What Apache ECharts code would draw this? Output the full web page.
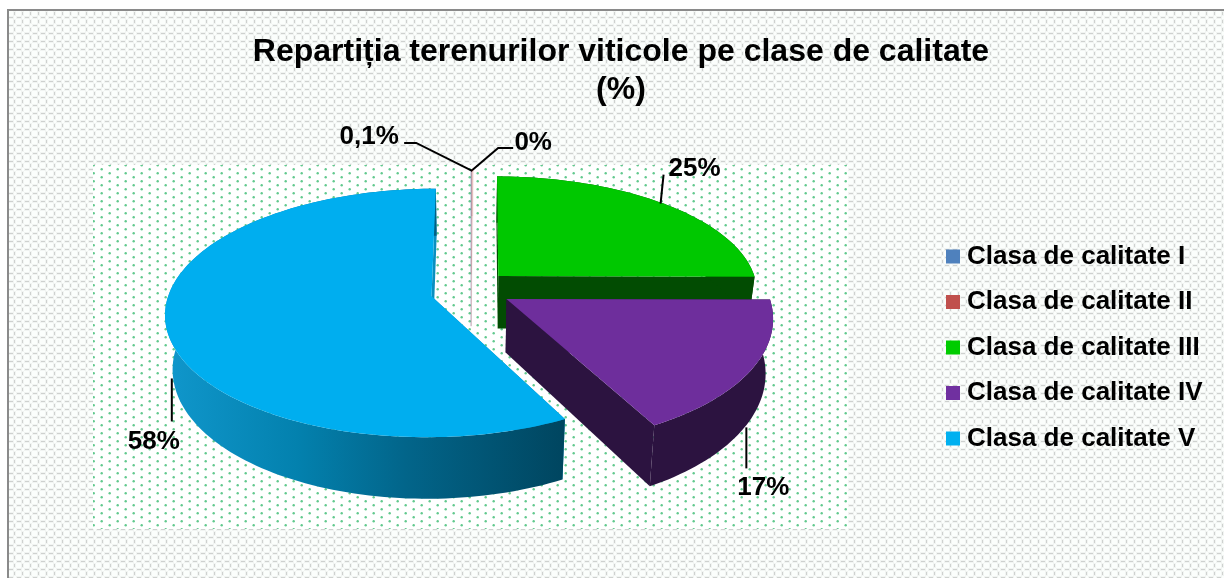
<!DOCTYPE html>
<html><head><meta charset="utf-8">
<style>html,body{margin:0;padding:0;background:#fff}#c{width:1224px;height:578px}</style>
<script src="https://cdn.jsdelivr.net/npm/echarts@6/dist/echarts.min.js"></script>
</head><body><div id="c"></div>
<script>
const categories = ['Clasa de calitate I','Clasa de calitate II','Clasa de calitate III','Clasa de calitate IV','Clasa de calitate V'];
const values = [0.02, 0.1, 25, 17, 58];
const valueLabels = ['0%','0,1%','25%','17%','58%'];
const topColors = ['#4F81BD','#C0504D','#00C800','#6E2E9C','#00AEEF'];
const legendColors = ['#4F81BD','#C0504D','#00CC00','#7030A0','#00B0F0'];
const wallColors = ['#4F81BD','#C0504D','#024C02','#2C1340','#0A8FC0'];
const sliceOpacity = [0.09,0.09,1,1,1];

// camera model of the tilted, exploded pie
const CX=471, CY=291, RX=267.5, RY=122.7, K=0.136, EXPLODE=0.14, H=53, BOTTOM=0.975;
const startNudgeDeg=[0,0,0,0,1];
const sliceScale=[[1,1],[1,1],[0.97,0.94],[0.975,1.01],[0.98,0.985]];
const sliceShift=[[0,0],[0,0],[1,-3],[3,-1],[-3,1]];
// where each leader starts (rim of the slice) and how label and elbows sit relative to it
const leaderOnBottomRim=[false,false,false,true,true];
const leaderPaths=[[[0,1],[27,-22],[42,-22]],[[0,1],[-56,-27],[-68,-27]],[[-3,0],[0,-29]],[[1,1],[1,42]],[[-2,-4],[-2,39]]];
const labelOffsets=[[62,-27],[-103,-33],[31,-35],[18,61],[-20,59]];

const total=values.reduce((a,b)=>a+b,0);
const proj=(X,Z,bottom,sh)=>{const w=1+K*Z;const s=bottom?BOTTOM:1;return [CX+RX*s*X/w+sh[0], CY-RY*Z/w+(bottom?H/w:0)+sh[1]];};
function sliceGeom(i){
  let before=0;for(let j=0;j<i;j++)before+=values[j];
  const a0=before/total*360, a1=(before+values[i])/total*360;
  const mid=(a0+a1)/2*Math.PI/180;
  const ax=EXPLODE*Math.sin(mid), az=EXPLODE*Math.cos(mid);
  const from=a0+startNudgeDeg[i];
  const n=Math.max(2,Math.ceil((a1-from)/1.5));
  const sc=sliceScale[i];
  const rim=[];
  for(let k=0;k<=n;k++){const t=(from+(a1-from)*k/n)*Math.PI/180;rim.push([ax+sc[0]*Math.sin(t),az+sc[1]*Math.cos(t)]);}
  return {ax,az,rim,mid,sc};
}
function renderSlice(i){
  const g=sliceGeom(i), sh=sliceShift[i];
  const top=g.rim.map(p=>proj(p[0],p[1],false,sh)), bot=g.rim.map(p=>proj(p[0],p[1],true,sh));
  const A=proj(g.ax,g.az,false,sh), Ab=proj(g.ax,g.az,true,sh);
  let wallFill=wallColors[i], arcFill=wallColors[i];
  if(i===4) arcFill=new echarts.graphic.LinearGradient(165,0,566,0,[{offset:0,color:'#1097CC'},{offset:0.33,color:'#0381AE'},{offset:0.6,color:'#02658A'},{offset:1,color:'#00455F'}],true);
  const op=sliceOpacity[i], extra=op<1?{stroke:topColors[i],lineWidth:1}:{};
  const poly=(pts,fill)=>({type:'polygon',shape:{points:pts},style:Object.assign({fill,opacity:op},extra)});
  const last=top.length-1;
  const ch=[
    poly([A,top[0],bot[0],Ab],wallFill),
    poly([A,top[last],bot[last],Ab],wallFill),
    poly(top.concat(bot.slice().reverse()),arcFill),
    poly([A].concat(top),topColors[i])
  ];
  const rimT=[g.ax+g.sc[0]*Math.sin(g.mid),g.az+g.sc[1]*Math.cos(g.mid)];
  const a=proj(rimT[0],rimT[1],leaderOnBottomRim[i],sh);
  ch.push({type:'polyline',shape:{points:leaderPaths[i].map(o=>[a[0]+o[0],a[1]+o[1]])},style:{fill:null,stroke:'#000',lineWidth:2}});
  ch.push({type:'text',style:{text:valueLabels[i],x:a[0]+labelOffsets[i][0],y:a[1]+labelOffsets[i][1],align:'center',verticalAlign:'middle',fill:'#000',font:'bold 26px "Liberation Sans", Arial, sans-serif'}});
  return {type:'group',children:ch};
}

function makeOuter(){
  const c=document.createElement('canvas');c.width=8;c.height=8;const x=c.getContext('2d');
  x.fillStyle='#FBFEFC';x.fillRect(0,0,8,8);
  x.fillStyle='rgba(120,120,120,0.07)';x.fillRect(0,0,6,3);x.fillRect(5,3,3,5);
  x.fillStyle='rgba(110,110,110,0.26)';x.fillRect(1,1,4,1);
  x.fillRect(6,4,1,3);
  return c;
}
function makeInner(){
  const c=document.createElement('canvas');c.width=16;c.height=8;const x=c.getContext('2d');
  x.fillStyle='#FFFFFF';x.fillRect(0,0,16,8);
  x.fillStyle='#62C98E';
  x.beginPath();x.arc(5.7,1.2,1.2,0,7);x.fill();
  x.beginPath();x.arc(13.7,5.2,1.2,0,7);x.fill();
  return c;
}

const chart=echarts.init(document.getElementById('c'),null,{renderer:'canvas'});
chart.setOption({
  animation:false,
  color:legendColors,
  title:{text:'Repartiția terenurilor viticole pe clase de calitate\n(%)',left:616,top:28,textAlign:'center',
    textStyle:{fontFamily:'"Liberation Sans", Arial, sans-serif',fontWeight:'bold',fontSize:32,lineHeight:38,color:'#000'}},
  legend:{data:categories,orient:'vertical',left:941,top:238.5,icon:'rect',itemWidth:14,itemHeight:14,itemGap:19.5,selectedMode:false,
    textStyle:{fontFamily:'"Liberation Sans", Arial, sans-serif',fontWeight:'bold',fontSize:26,color:'#000',padding:[0,0,0,2],lineHeight:26}},
  graphic:[
    {type:'rect',z:-10,silent:true,shape:{x:0,y:0,width:1224,height:578},style:{fill:'#fff'}},
    {type:'rect',z:-9,silent:true,shape:{x:8,y:10,width:1216,height:568},style:{fill:{image:makeOuter(),repeat:'repeat'}}},
    {type:'rect',z:-8,silent:true,shape:{x:93,y:165,width:755,height:364},style:{fill:{image:makeInner(),repeat:'repeat'}}},
    {type:'rect',z:-7,silent:true,shape:{x:7,y:9,width:1217,height:2},style:{fill:'#8A8A8A'}},
    {type:'rect',z:-7,silent:true,shape:{x:7,y:9,width:2,height:569},style:{fill:'#8A8A8A'}}
  ],
  series:categories.map((name,i)=>({
    type:'custom',name,coordinateSystem:'none',silent:true,clip:false,
    itemStyle:{color:legendColors[i]},
    data:[[values[i]]],
    z:2+i,
    renderItem:()=>renderSlice(i)
  }))
});
</script></body></html>
